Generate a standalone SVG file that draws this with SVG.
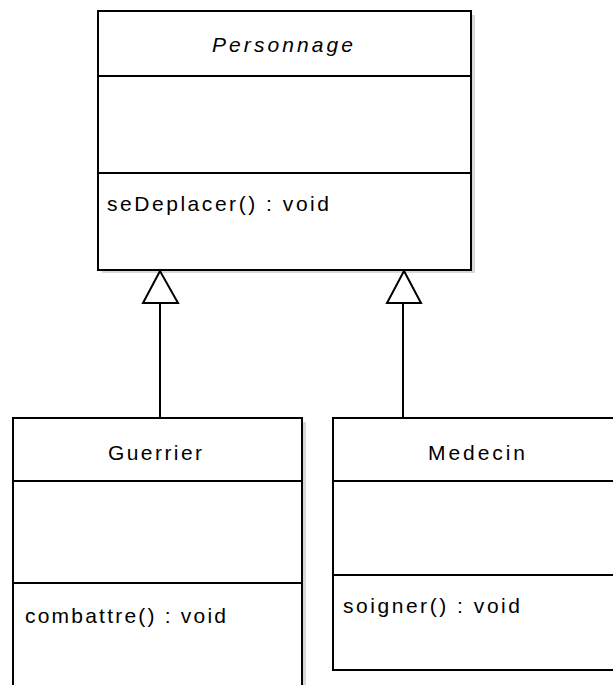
<svg xmlns="http://www.w3.org/2000/svg" width="613" height="685" viewBox="0 0 613 685">
<style>
.box{fill:#fff;stroke:#000;stroke-width:2}
.shadow{fill:#d8d8d8}
.div{stroke:#000;stroke-width:2}
.t{font-family:"Liberation Sans",Arial,sans-serif;font-size:21px;fill:#000}
.conn line{stroke:#000;stroke-width:2}
.conn polygon{fill:#fff;stroke:#000;stroke-width:2;stroke-linejoin:miter}
</style>
<rect width="613" height="685" fill="#fff"/>
<g id="Personnage">
<rect class="shadow" x="102" y="15" width="373" height="258"/>
<rect class="box" x="98" y="11" width="373" height="259"/>
<line class="div" x1="98" y1="76" x2="471" y2="76"/>
<line class="div" x1="98" y1="173" x2="471" y2="173"/>
<text class="t" x="212" y="52" font-style="italic" textLength="141" lengthAdjust="spacing">Personnage</text>
<text class="t" x="107" y="211" textLength="222" lengthAdjust="spacing">seDeplacer() : void</text>
</g>
<g id="Guerrier">
<rect class="shadow" x="17" y="422" width="289" height="270"/>
<rect class="box" x="13" y="418" width="289" height="275"/>
<line class="div" x1="13" y1="481" x2="302" y2="481"/>
<line class="div" x1="13" y1="583" x2="302" y2="583"/>
<text class="t" x="108" y="460" textLength="94" lengthAdjust="spacing">Guerrier</text>
<text class="t" x="25" y="623" textLength="201" lengthAdjust="spacing">combattre() : void</text>
</g>
<g id="Medecin">
<rect class="box" x="333" y="418" width="290" height="252"/>
<line class="div" x1="333" y1="481" x2="623" y2="481"/>
<line class="div" x1="333" y1="575" x2="623" y2="575"/>
<text class="t" x="428" y="460" textLength="97" lengthAdjust="spacing">Medecin</text>
<text class="t" x="343" y="613" textLength="177" lengthAdjust="spacing">soigner() : void</text>
</g>
<g id="connectors" class="conn">
<line x1="160" y1="303" x2="160" y2="418"/>
<polygon points="160,271 143,303 178,303"/>
<line x1="403" y1="303" x2="403" y2="418"/>
<polygon points="404,271 387,303 421,303"/>
</g>
</svg>
